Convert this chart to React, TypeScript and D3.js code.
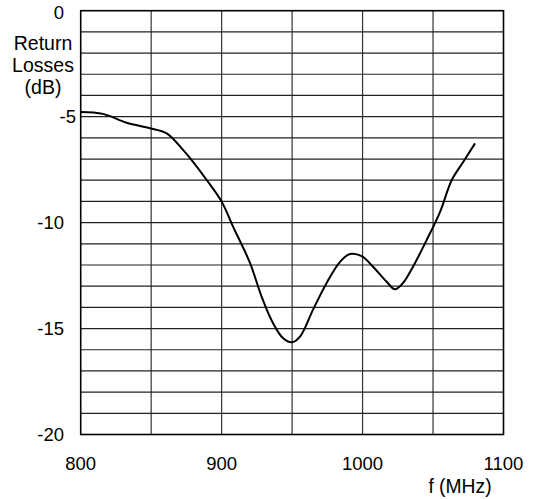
import { useEffect, useRef } from "react";
import * as d3 from "d3";

// values
const freqs = [
  800, 815.8, 832.6, 849.2, 861, 872.6, 879.7, 889.4, 900, 908.1, 920.1, 928.4,
  936.4, 943.5, 949.7, 955.6, 964.8, 974.5, 984, 991.1, 999.4, 1007.4, 1017.1,
  1023, 1028.7, 1035.8, 1045.5, 1055, 1063.3, 1071.5, 1079.8,
];
const losses = [
  -4.78, -4.87, -5.29, -5.55, -5.79, -6.57, -7.13, -7.99, -9.01, -10.19, -11.9,
  -13.5, -14.74, -15.45, -15.65, -15.38, -14.12, -12.85, -11.85, -11.48, -11.58,
  -12.08, -12.79, -13.15, -12.85, -12.08, -10.82, -9.49, -7.99, -7.13, -6.26,
];
const xTickLabels = [800, 900, 1000, 1100];
const yTickLabels = [0, -5, -10, -15, -20];
const yTitle = ["Return", "Losses", "(dB)"];
const xTitle = "f (MHz)";

const App = () => {
  const svgRef = useRef<SVGSVGElement>(null);

  useEffect(() => {
    const svg = d3.select(svgRef.current);
    svg.selectAll("*").remove();

    const left = 80.7;
    const right = 503.5;
    const top = 10.7;
    const bottom = 434.5;
    const font = "'Liberation Sans', Arial, sans-serif";

    const x = d3.scaleLinear().domain([800, 1100]).range([left, right]);
    const y = d3.scaleLinear().domain([-20, 0]).range([bottom, top]);

    const g = svg.append("g");

    // grid: every 50 MHz, every 1 dB
    g.selectAll(".vgrid")
      .data(d3.range(850, 1100, 50))
      .enter()
      .append("line")
      .attr("x1", (d) => x(d))
      .attr("x2", (d) => x(d))
      .attr("y1", top)
      .attr("y2", bottom)
      .attr("stroke", "#333")
      .attr("stroke-width", 1.2);

    g.selectAll(".hgrid")
      .data(d3.range(-19, 0, 1))
      .enter()
      .append("line")
      .attr("x1", left)
      .attr("x2", right)
      .attr("y1", (d) => y(d))
      .attr("y2", (d) => y(d))
      .attr("stroke", "#222")
      .attr("stroke-width", 1.2);

    g.append("rect")
      .attr("x", left)
      .attr("y", top)
      .attr("width", right - left)
      .attr("height", bottom - top)
      .attr("fill", "none")
      .attr("stroke", "#000")
      .attr("stroke-width", 1.6);

    const line = d3
      .line<number>()
      .x((d, i) => x(freqs[i]))
      .y((d) => y(d))
      .curve(d3.curveCatmullRom.alpha(0.5));

    g.append("path")
      .datum(losses)
      .attr("d", line)
      .attr("fill", "none")
      .attr("stroke", "#000")
      .attr("stroke-width", 2);

    // y tick labels (the -5 sits closer to the axis in the original)
    g.selectAll(".ylab")
      .data(yTickLabels)
      .enter()
      .append("text")
      .attr("x", (d) => (d === -5 ? 76 : 64))
      .attr("y", (d) => y(d) + (d === 0 ? 2 : 0))
      .attr("text-anchor", "end")
      .attr("dominant-baseline", "central")
      .style("font-family", font)
      .style("font-size", "18.5px")
      .text((d) => d);

    g.selectAll(".xlab")
      .data(xTickLabels)
      .enter()
      .append("text")
      .attr("x", (d) => x(d))
      .attr("y", 470)
      .attr("text-anchor", "middle")
      .style("font-family", font)
      .style("font-size", "18.5px")
      .text((d) => d);

    g.selectAll(".ytitle")
      .data(yTitle)
      .enter()
      .append("text")
      .attr("x", 43)
      .attr("y", (d, i) => 43 + i * 22)
      .attr("text-anchor", "middle")
      .attr("dominant-baseline", "central")
      .style("font-family", font)
      .style("font-size", "19.5px")
      .text((d) => d);

    g.append("text")
      .attr("x", 460)
      .attr("y", 493)
      .attr("text-anchor", "middle")
      .style("font-family", font)
      .style("font-size", "19.3px")
      .text(xTitle);
  }, []);

  return (
    <svg
      ref={svgRef}
      width={534}
      height={499}
      style={{ position: "absolute", left: 0, top: 0, background: "#fff" }}
    ></svg>
  );
};

export default App;
